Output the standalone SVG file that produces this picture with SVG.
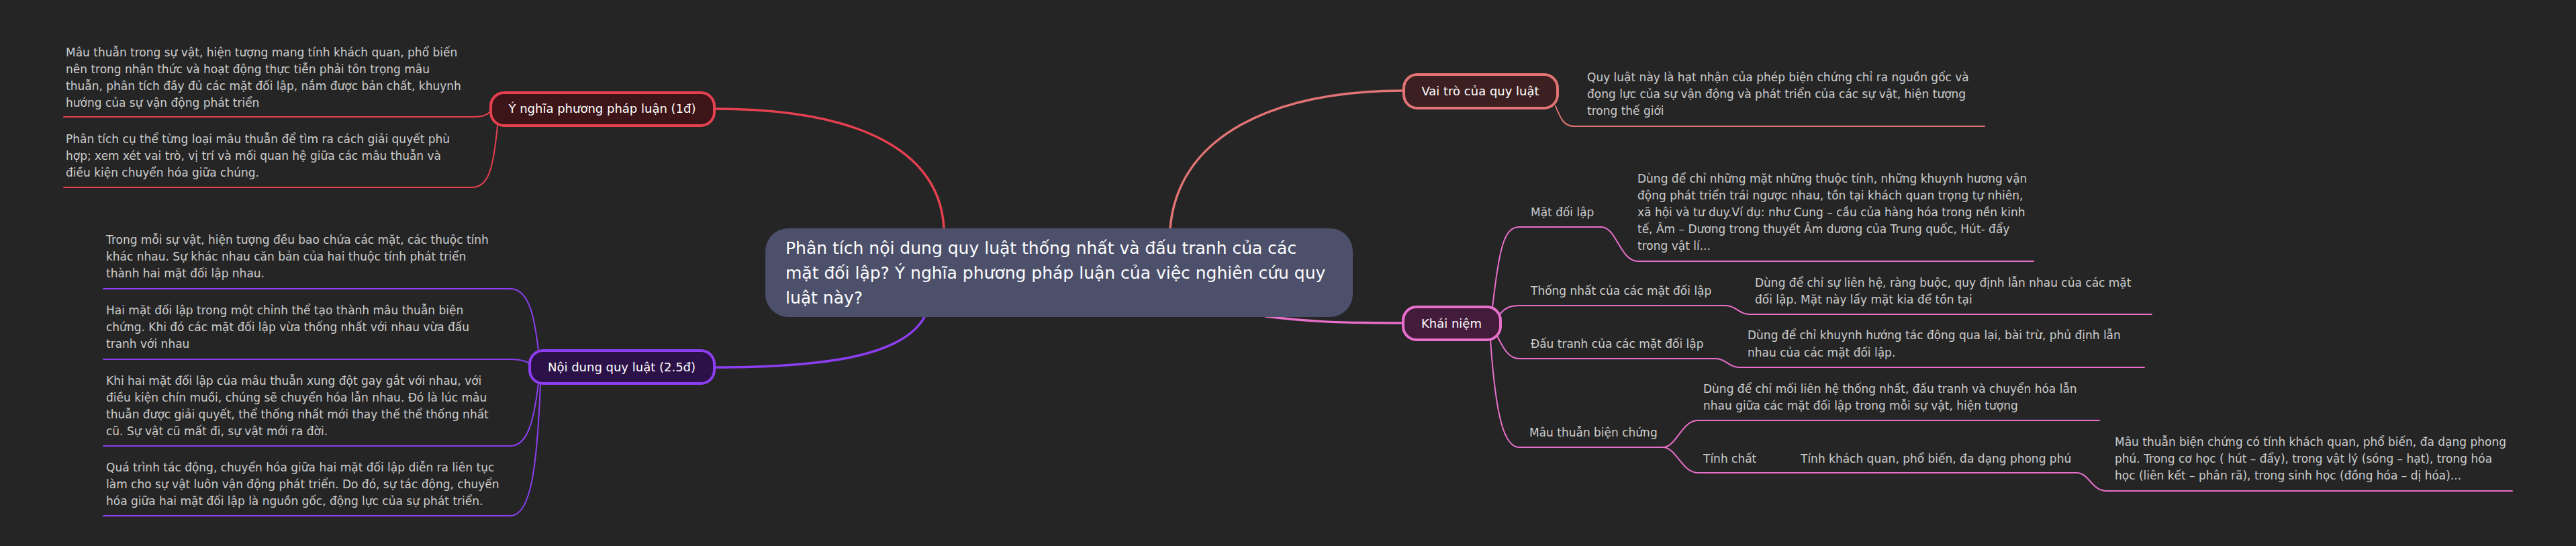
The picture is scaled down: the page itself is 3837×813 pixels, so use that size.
<svg xmlns="http://www.w3.org/2000/svg" width="3837" height="813" viewBox="0 0 3837 813">
<style>
text{font-family:"DejaVu Sans","Noto Sans",sans-serif}
.d{font-size:17px;fill:#cccccc}
.n{font-size:18px;fill:#ffffff;text-anchor:middle}
.r{font-size:25px;fill:#ffffff}
.c{fill:none;stroke-linecap:round;stroke-linejoin:round}
.main{stroke-width:3.5}
.sub{stroke-width:2}
.red{stroke:#e5404f}
.sal{stroke:#e27474}
.pur{stroke:#8c3ef0}
.pnk{stroke:#e86fcb}
</style>
<rect x="0" y="0" width="3837" height="813" fill="#252525"/>
<g id="connectors">
<path class="c main red" d="M1406 340 C1400 230 1290 162 1064 162"/>
<path class="c main sal" d="M1743 340 C1755 200 1900 135 2091 135"/>
<path class="c main pur" d="M1377 472 C1345 530 1230 547 1064 547"/>
<path class="c main pnk" d="M1885 471 C1940 478 1985 481 2090 481"/>
<path class="c sub red" d="M731 166 C724 172 718 174 705 174 H95"/>
<path class="c sub red" d="M741 187 C735 250 728 279 703 279 H95"/>
<path class="c sub sal" d="M2317 158 C2325 178 2330 188 2345 188 H2956"/>
<path class="c sub pur" d="M802 522 C797 480 790 430 760 430 H154"/>
<path class="c sub pur" d="M789 541 C782 537 775 535 760 535 H154"/>
<path class="c sub pur" d="M802 570 C795 630 785 664 760 664 H154"/>
<path class="c sub pur" d="M805 571 C800 700 790 768 760 768 H154"/>
<path class="c sub pnk" d="M2223 458 C2233 370 2240 338 2263 338 H2385 C2408 338 2413 389 2440 389 H3029"/>
<path class="c sub pnk" d="M2234 468 C2242 458 2250 455 2263 455 H2570 C2586 455 2590 468 2605 468 H3205"/>
<path class="c sub pnk" d="M2230 500 C2242 525 2250 534 2263 534 H2555 C2571 534 2575 547 2590 547 H3194"/>
<path class="c sub pnk" d="M2220 506 C2228 620 2240 666 2263 666 H2477"/>
<path class="c sub pnk" d="M2477 666 C2497 666 2505 626 2529 626 H3127"/>
<path class="c sub pnk" d="M2477 666 C2497 666 2505 704 2529 704 H3093 C3112 704 3115 731 3138 731 H3742"/>
</g>
<g id="root">
<rect x="1140" y="340" width="875" height="132" rx="34" fill="#4c506b"/>
<text class="r" x="1170" y="378">Phân tích nội dung quy luật thống nhất và đấu tranh của các</text>
<text class="r" x="1170" y="415">mặt đối lập? Ý nghĩa phương pháp luận của việc nghiên cứu quy</text>
<text class="r" x="1170" y="452">luật này?</text>
</g>
<g id="y-nghia">
<rect x="731" y="138" width="333" height="49" rx="20" fill="#3d1518" stroke="#e5404f" stroke-width="4"/>
<text class="n" x="897" y="168">Ý nghĩa phương pháp luận (1đ)</text>
</g>
<g id="y-nghia-1">
<text class="d" x="98" y="84">Mâu thuẫn trong sự vật, hiện tượng mang tính khách quan, phổ biến</text>
<text class="d" x="98" y="109">nên trong nhận thức và hoạt động thực tiễn phải tôn trọng mâu</text>
<text class="d" x="98" y="134">thuẫn, phân tích đầy đủ các mặt đối lập, nắm được bản chất, khuynh</text>
<text class="d" x="98" y="159">hướng của sự vận động phát triển</text>
</g>
<g id="y-nghia-2">
<text class="d" x="98" y="213">Phân tích cụ thể từng loại mâu thuẫn để tìm ra cách giải quyết phù</text>
<text class="d" x="98" y="238">hợp; xem xét vai trò, vị trí và mối quan hệ giữa các mâu thuẫn và</text>
<text class="d" x="98" y="263">điều kiện chuyển hóa giữa chúng.</text>
</g>
<g id="noi-dung">
<rect x="789" y="522" width="275" height="49" rx="20" fill="#2b1147" stroke="#8c3ef0" stroke-width="4"/>
<text class="n" x="926" y="553">Nội dung quy luật (2.5đ)</text>
</g>
<g id="noi-dung-1">
<text class="d" x="158" y="363">Trong mỗi sự vật, hiện tượng đều bao chứa các mặt, các thuộc tính</text>
<text class="d" x="158" y="388">khác nhau. Sự khác nhau căn bản của hai thuộc tính phát triển</text>
<text class="d" x="158" y="413">thành hai mặt đối lập nhau.</text>
</g>
<g id="noi-dung-2">
<text class="d" x="158" y="468">Hai mặt đối lập trong một chỉnh thể tạo thành mâu thuẫn biện</text>
<text class="d" x="158" y="493">chứng. Khi đó các mặt đối lập vừa thống nhất với nhau vừa đấu</text>
<text class="d" x="158" y="518">tranh với nhau</text>
</g>
<g id="noi-dung-3">
<text class="d" x="158" y="573">Khi hai mặt đối lập của mâu thuẫn xung đột gay gắt với nhau, với</text>
<text class="d" x="158" y="598">điều kiện chín muồi, chúng sẽ chuyển hóa lẫn nhau. Đó là lúc mâu</text>
<text class="d" x="158" y="623">thuẫn được giải quyết, thể thống nhất mới thay thế thể thống nhất</text>
<text class="d" x="158" y="648">cũ. Sự vật cũ mất đi, sự vật mới ra đời.</text>
</g>
<g id="noi-dung-4">
<text class="d" x="158" y="702">Quá trình tác động, chuyển hóa giữa hai mặt đối lập diễn ra liên tục</text>
<text class="d" x="158" y="727">làm cho sự vật luôn vận động phát triển. Do đó, sự tác động, chuyển</text>
<text class="d" x="158" y="752">hóa giữa hai mặt đối lập là nguồn gốc, động lực của sự phát triển.</text>
</g>
<g id="vai-tro">
<rect x="2091" y="111" width="229" height="50" rx="20" fill="#3c2021" stroke="#e27474" stroke-width="4"/>
<text class="n" x="2205" y="142">Vai trò của quy luật</text>
</g>
<g id="vai-tro-1">
<text class="d" x="2364" y="121">Quy luật này là hạt nhận của phép biện chứng chỉ ra nguồn gốc và</text>
<text class="d" x="2364" y="146">đọng lực của sự vận động và phát triển của các sự vật, hiện tượng</text>
<text class="d" x="2364" y="171">trong thế giới</text>
</g>
<g id="khai-niem">
<rect x="2090" y="457" width="145" height="49" rx="20" fill="#441c3b" stroke="#e86fcb" stroke-width="4"/>
<text class="n" x="2162" y="488">Khái niệm</text>
</g>
<g id="mat-doi-lap">
<text class="d" x="2280" y="322">Mặt đối lập</text>
</g>
<g id="mat-doi-lap-1">
<text class="d" x="2439" y="272">Dùng để chỉ những mặt những thuộc tính, những khuynh hương vận</text>
<text class="d" x="2439" y="297">động phát triển trái ngược nhau, tồn tại khách quan trọng tự nhiên,</text>
<text class="d" x="2439" y="322">xã hội và tư duy.Ví dụ: như Cung – cầu của hàng hóa trong nền kinh</text>
<text class="d" x="2439" y="347">tế, Âm – Dương trong thuyết Âm dương của Trung quốc, Hút- đẩy</text>
<text class="d" x="2439" y="372">trong vật lí...</text>
</g>
<g id="thong-nhat">
<text class="d" x="2280" y="439">Thống nhất của các mặt đối lập</text>
</g>
<g id="thong-nhat-1">
<text class="d" x="2614" y="427">Dùng để chỉ sự liên hệ, ràng buộc, quy định lẫn nhau của các mặt</text>
<text class="d" x="2614" y="452">đối lập. Mặt này lấy mặt kia để tồn tại</text>
</g>
<g id="dau-tranh">
<text class="d" x="2280" y="518">Đấu tranh của các mặt đối lập</text>
</g>
<g id="dau-tranh-1">
<text class="d" x="2603" y="505">Dùng để chỉ khuynh hướng tác động qua lại, bài trừ, phủ định lẫn</text>
<text class="d" x="2603" y="531">nhau của các mặt đối lập.</text>
</g>
<g id="mau-thuan">
<text class="d" x="2278" y="650">Mâu thuẫn biện chứng</text>
</g>
<g id="mau-thuan-1">
<text class="d" x="2537" y="585">Dùng để chỉ mối liên hệ thống nhất, đấu tranh và chuyển hóa lẫn</text>
<text class="d" x="2537" y="610">nhau giữa các mặt đối lập trong mỗi sự vật, hiện tượng</text>
</g>
<g id="tinh-chat">
<text class="d" x="2537" y="689">Tính chất</text>
</g>
<g id="tinh-chat-1">
<text class="d" x="2682" y="689">Tính khách quan, phổ biến, đa dạng phong phú</text>
</g>
<g id="tinh-chat-2">
<text class="d" x="3150" y="664">Mâu thuẫn biện chứng có tính khách quan, phổ biến, đa dạng phong</text>
<text class="d" x="3150" y="689">phú. Trong cơ học ( hút – đẩy), trong vật lý (sóng – hạt), trong hóa</text>
<text class="d" x="3150" y="714">học (liên kết – phân rã), trong sinh học (đồng hóa – dị hóa)...</text>
</g>
</svg>
